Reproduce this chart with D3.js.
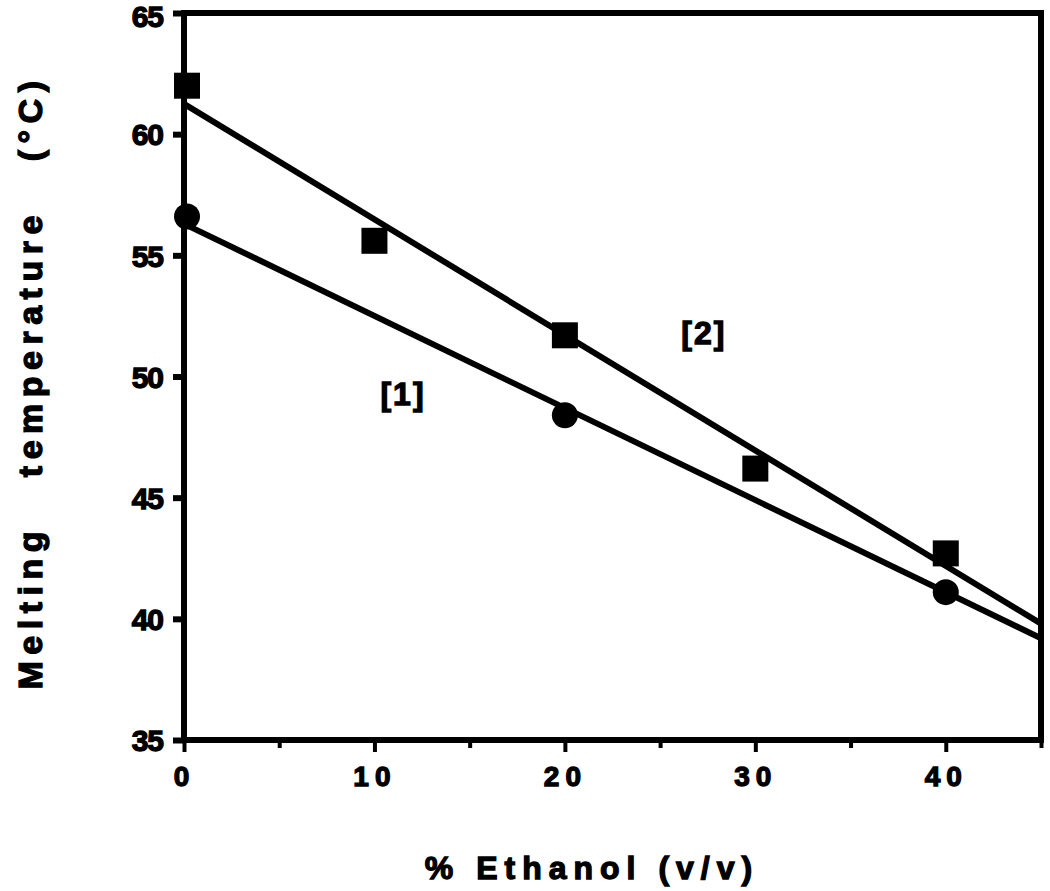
<!DOCTYPE html>
<html>
<head>
<meta charset="utf-8">
<script src="https://cdn.jsdelivr.net/npm/d3@7"></script>
<style>
body{margin:0;background:#fff;}
text{font-family:"Liberation Sans",Arial,Helvetica,sans-serif;font-weight:bold;fill:#000;stroke:#000;stroke-width:1.3px;}
</style>
</head>
<body>
<svg id="chart" width="1050" height="891"></svg>
<script>
// Data
const ethanol2 = [0, 10, 20, 30, 40];
const tm2 = [62.0, 55.6, 51.7, 46.2, 42.7];
const ethanol1 = [0, 20, 40];
const tm1 = [56.6, 48.4, 41.1];
const fit1X = [0, 45];
const fit1Y = [56.3, 39.2];
const fit2X = [0, 45];
const fit2Y = [61.25, 39.8];
const xTicks = [0, 10, 20, 30, 40];
const xMinorTicks = [5, 15, 25, 35, 45];
const yTicks = [35, 40, 45, 50, 55, 60, 65];
const seriesLabels = [{t:"[1]", x:11.5, y:49.3}, {t:"[2]", x:27.3, y:51.8}];

const svg = d3.select("#chart");
const x = d3.scaleLinear().domain([0, 45]).range([184, 1041]);
const y = d3.scaleLinear().domain([35, 65]).range([740, 13]);

// frame
svg.append("rect").attr("x", x(0)).attr("y", y(65)).attr("width", x(45)-x(0)).attr("height", y(35)-y(65))
  .attr("fill","none").attr("stroke","#000").attr("stroke-width",6);

// y axis
const yAxis = d3.axisLeft(y).tickValues(yTicks).tickSize(11).tickPadding(10);
const ya = svg.append("g").attr("transform", `translate(${x(0)},0)`).call(yAxis);
ya.select(".domain").remove();
ya.selectAll(".tick line").attr("stroke-width",6);
ya.selectAll(".tick text").style("font-size","30px").style("letter-spacing","-1px")
  .attr("dy", d => d === 65 ? "0.45em" : "0.36em");

// x axis
const xAxis = d3.axisBottom(x).tickValues(xTicks).tickSize(12).tickPadding(14);
const xa = svg.append("g").attr("transform", `translate(0,${y(35)})`).call(xAxis);
xa.select(".domain").remove();
xa.selectAll(".tick line").attr("stroke-width",4);
xa.selectAll(".tick text").style("font-size","28px").style("letter-spacing","6px");
const xMinor = d3.axisBottom(x).tickValues(xMinorTicks).tickSize(8).tickFormat("");
const xm = svg.append("g").attr("transform", `translate(0,${y(35)})`).call(xMinor);
xm.select(".domain").remove();
xm.selectAll(".tick line").attr("stroke-width",4);

// fit lines
const line = d3.line().x(d => x(d[0])).y(d => y(d[1]));
[[fit1X, fit1Y], [fit2X, fit2Y]].forEach(([xs, ys]) => {
  svg.append("path").datum(xs.map((v,i)=>[v, ys[i]]))
    .attr("d", line).attr("fill","none").attr("stroke","#000").attr("stroke-width",6);
});

// markers
const s = 26;
svg.append("g").selectAll("rect").data(ethanol2.map((v,i)=>[v, tm2[i]])).join("rect")
  .attr("x", d => x(d[0]) - s/2 + (d[0]===0 ? 3 : 0)).attr("y", d => y(d[1]) - s/2)
  .attr("width", s).attr("height", s).attr("fill","#000");
svg.append("g").selectAll("circle").data(ethanol1.map((v,i)=>[v, tm1[i]])).join("circle")
  .attr("cx", d => x(d[0]) + (d[0]===0 ? 3 : 0)).attr("cy", d => y(d[1])).attr("r", 13).attr("fill","#000");

// series labels
svg.append("g").selectAll("text").data(seriesLabels).join("text")
  .attr("x", d => x(d.x)).attr("y", d => y(d.y)).attr("text-anchor","middle").attr("dy","0.35em")
  .style("font-size","32px").style("letter-spacing","2px").text(d => d.t);

// axis titles
svg.append("text").attr("x", 592).attr("y", 879).attr("text-anchor","middle")
  .style("font-size","32px").style("letter-spacing","7px").text("% Ethanol (v/v)");
svg.append("text").attr("transform","translate(42,382) rotate(-90)").attr("text-anchor","middle")
  .style("font-size","34px").style("letter-spacing","6.5px").attr("xml:space","preserve")
  .text("Melting   temperature   (°C)");
</script>
</body>
</html>
